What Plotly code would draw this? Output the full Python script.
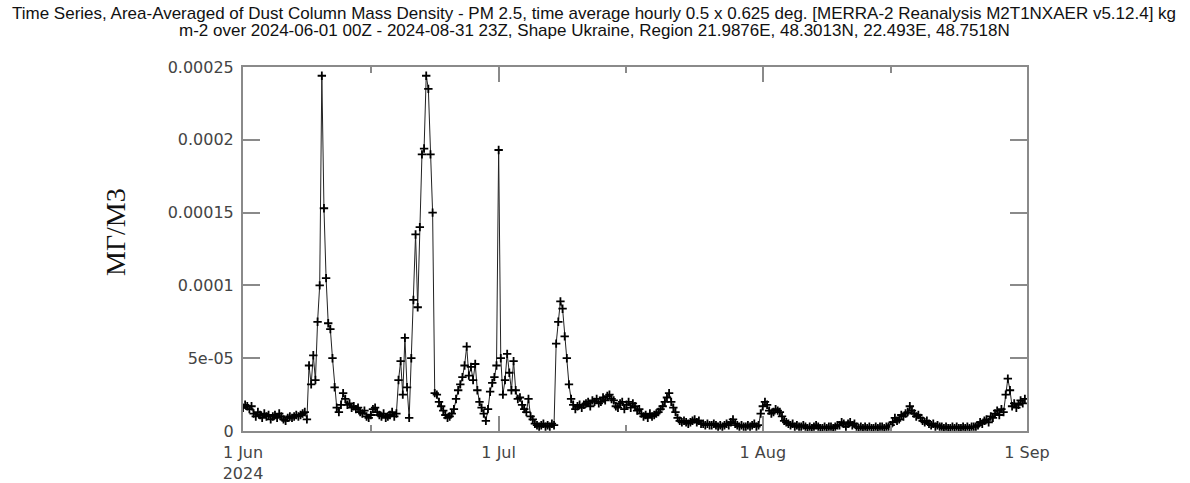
import pandas as pd
import plotly.graph_objects as go

# 6-hourly readings (units of 1e-5 kg m-3), one row per day, 2024-06-01 .. 2024-08-31
dust_e5 = [
    1.6, 1.8, 1.7, 1.5,   1.7, 1.2, 1.0, 1.3,   1.1, 0.9, 1.2, 1.0,   1.1, 0.8, 1.0, 1.1,
    0.9, 1.2, 1.0, 0.8,   0.7, 0.9, 1.0, 0.9,   1.0, 1.1, 1.0, 1.1,   1.2, 1.3, 0.8, 4.5,
    3.2, 5.2, 3.5, 7.5,   10.0, 24.4, 15.3, 10.5, 7.4, 7.0, 5.0, 3.0,  1.6, 1.3, 1.8, 2.6,
    2.2, 1.8, 1.9, 1.6,   1.7, 1.5, 1.6, 1.3,   1.2, 1.4, 1.0, 0.9,   1.1, 1.5, 1.6, 1.3,
    1.1, 1.0, 1.2, 0.9,   1.0, 1.1, 1.3, 1.0,   1.2, 3.5, 4.8, 2.5,   6.4, 3.0, 0.9, 5.0,
    9.0, 13.5, 8.5, 14.0, 19.0, 19.4, 24.4, 23.5, 19.0, 15.0, 2.6, 2.5, 2.0, 1.7, 1.4, 1.1,
    0.9, 1.0, 1.2, 1.5,   2.2, 2.8, 3.2, 3.7,   4.5, 5.8, 3.8, 4.4,   3.5, 4.6, 2.8, 2.0,
    1.6, 1.2, 0.7, 1.5,   2.7, 3.3, 3.7, 4.5,   19.3, 5.0, 2.5, 3.5,  5.3, 4.0, 2.8, 4.8,
    2.8, 2.2, 2.3, 1.8,   1.5, 1.3, 2.2, 1.0,   0.8, 0.5, 0.4, 0.3,   0.4, 0.5, 0.3, 0.4,
    0.3, 0.5, 0.4, 6.0,   7.5, 8.9, 8.4, 6.5,   5.0, 3.2, 2.2, 1.8,   1.5, 1.7, 1.8, 1.6,
    1.8, 1.9, 2.0, 1.7,   2.1, 2.0, 2.2, 1.9,   2.0, 2.3, 2.1, 2.4,   2.5, 2.2, 2.1, 1.7,
    1.6, 1.9, 2.0, 1.5,   1.8, 2.0, 1.6, 1.9,   1.7, 1.4, 1.5, 1.2,   1.0, 1.1, 0.9, 1.2,
    1.0, 1.1, 1.2, 1.3,   1.5, 1.7, 2.0, 2.3,   2.6, 2.0, 1.6, 1.3,   0.9, 0.7, 0.6, 0.7,
    0.6, 0.5, 0.6, 0.7,   0.8, 0.6, 0.7, 0.5,   0.5, 0.4, 0.5, 0.4,   0.4, 0.5, 0.4, 0.3,
    0.4, 0.3, 0.4, 0.5,   0.4, 0.6, 0.8, 0.5,   0.4, 0.3, 0.4, 0.3,   0.3, 0.4, 0.3, 0.4,
    0.5, 0.3, 0.4, 1.2,   1.7, 2.0, 1.8, 1.4,   1.2, 1.3, 1.5, 1.4,   1.3, 1.0, 0.7, 0.6,
    0.5, 0.4, 0.5, 0.3,   0.4, 0.3, 0.3, 0.4,   0.3, 0.2, 0.3, 0.2,   0.3, 0.4, 0.3, 0.2,
    0.2, 0.3, 0.2, 0.3,   0.3, 0.2, 0.3, 0.4,   0.4, 0.6, 0.5, 0.3,   0.5, 0.6, 0.4, 0.5,
    0.3, 0.2, 0.3, 0.2,   0.3, 0.2, 0.3, 0.2,   0.2, 0.3, 0.2, 0.3,   0.3, 0.2, 0.3, 0.3,
    0.4, 0.6, 0.9, 0.7,   0.8, 1.1, 1.0, 1.2,   1.3, 1.7, 1.4, 1.2,   1.0, 1.1, 0.9, 0.7,
    0.6, 0.7, 0.5, 0.4,   0.5, 0.3, 0.4, 0.3,   0.3, 0.2, 0.3, 0.2,   0.2, 0.3, 0.2, 0.3,
    0.2, 0.2, 0.3, 0.2,   0.3, 0.2, 0.3, 0.3,   0.3, 0.4, 0.6, 0.5,   0.7, 0.8, 0.6, 1.0,
    0.9, 1.2, 1.4, 1.1,   1.5, 1.3, 2.5, 3.6,   2.8, 1.7, 1.9, 1.6,   1.8, 2.1, 1.9, 2.2,
]
start_time = "2024-06-01 00:00"
step = "6h"

y_tickvals = [0, 0.00005, 0.0001, 0.00015, 0.0002, 0.00025]
y_ticktext = ["0", "5e-05", "0.0001", "0.00015", "0.0002", "0.00025"]
x_tickvals = ["2024-06-01", "2024-07-01", "2024-08-01", "2024-09-01"]
x_ticktext = ["1 Jun<br>2024", "1 Jul", "1 Aug", "1 Sep"]
x_minor = ["2024-06-16", "2024-07-16", "2024-08-16"]

title1 = ("Time Series, Area-Averaged of Dust Column Mass Density - PM 2.5, time average hourly "
          "0.5 x 0.625 deg. [MERRA-2 Reanalysis M2T1NXAER v5.12.4] kg")
title2 = "m-2 over 2024-06-01 00Z - 2024-08-31 23Z, Shape Ukraine, Region 21.9876E, 48.3013N, 22.493E, 48.7518N"
y_label = "МГ/М3"

times = pd.date_range(start_time, periods=len(dust_e5), freq=step)
values = [v * 1e-5 for v in dust_e5]

fig = go.Figure()
fig.add_trace(go.Scatter(
    x=times, y=values, mode="lines+markers",
    line=dict(color="#222222", width=1),
    marker=dict(symbol="cross-thin", size=6, line=dict(color="black", width=1.8)),
    showlegend=False,
))

axis_col = "#8a8a8a"
fig.update_layout(
    width=1190, height=483,
    margin=dict(l=243, r=163, t=67, b=52),
    paper_bgcolor="white", plot_bgcolor="white",
    font=dict(family="DejaVu Sans", size=16, color="#444444"),
    xaxis=dict(
        type="date", range=["2024-06-01", "2024-09-01"],
        tickvals=x_tickvals, ticktext=x_ticktext,
        ticks="inside", ticklen=15, tickwidth=1.5, tickcolor=axis_col,
        showline=True, linecolor=axis_col, linewidth=2, mirror="ticks",
        showgrid=False, zeroline=False, automargin=False,
        minor=dict(tickvals=x_minor, ticks="inside", ticklen=6, tickwidth=1.5, tickcolor=axis_col),
        tickfont=dict(family="DejaVu Sans", size=16, color="#444444"),
        ticklabelstandoff=6,
    ),
    yaxis=dict(
        range=[0, 0.00025],
        tickvals=y_tickvals, ticktext=y_ticktext,
        ticks="inside", ticklen=17, tickwidth=1.5, tickcolor=axis_col,
        showline=True, linecolor=axis_col, linewidth=2, mirror="ticks",
        showgrid=False, zeroline=False, automargin=False,
        tickfont=dict(family="DejaVu Sans", size=16, color="#444444"),
        ticklabelstandoff=4,
    ),
    annotations=[
        dict(text=title1, xref="paper", yref="paper", x=(594 - 243) / 784, y=1 + (67 - 13) / 364,
             xanchor="center", yanchor="middle", showarrow=False,
             font=dict(family="Liberation Sans", size=17, color="#111111")),
        dict(text=title2, xref="paper", yref="paper", x=(594 - 243) / 784, y=1 + (67 - 31) / 364,
             xanchor="center", yanchor="middle", showarrow=False,
             font=dict(family="Liberation Sans", size=17, color="#111111")),
        dict(text=y_label, xref="paper", yref="paper", x=(115 - 243) / 784, y=(431 - 232) / 364,
             xanchor="center", yanchor="middle", showarrow=False, textangle=-90,
             font=dict(family="Liberation Serif", size=28, color="#111111")),
    ],
)

fig.write_html("out.html")
